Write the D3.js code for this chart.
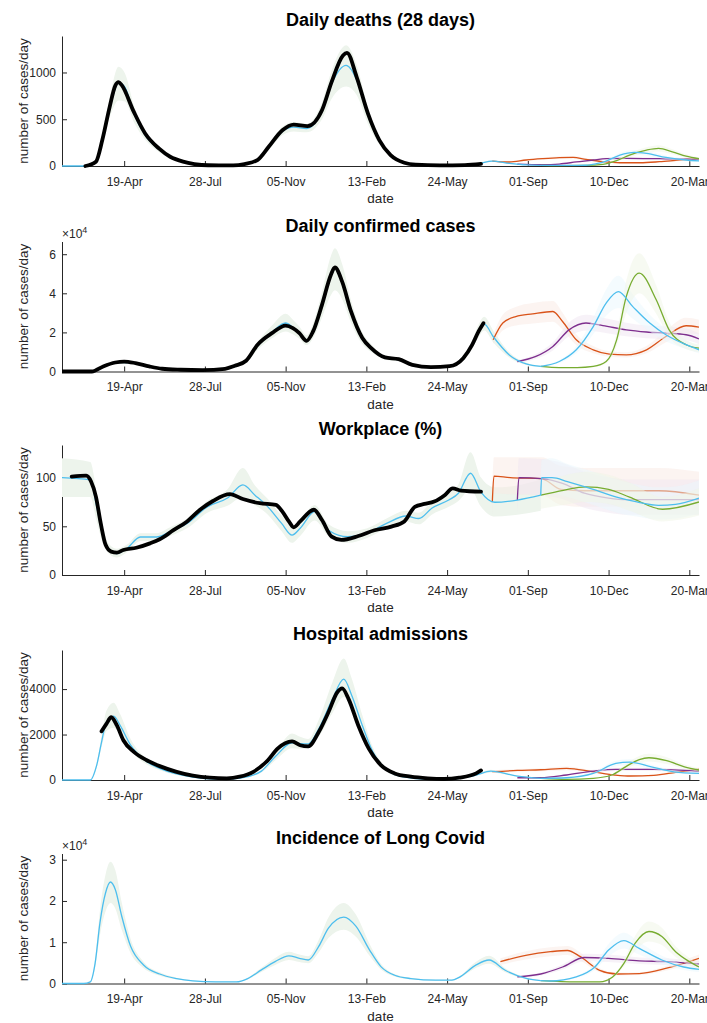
<!DOCTYPE html>
<html>
<head>
<meta charset="utf-8">
<script src="https://cdn.jsdelivr.net/npm/d3@7"></script>
<style>
body{margin:0;background:#fff}
svg{display:block;font-family:"Liberation Sans",Arial,Helvetica,sans-serif}
</style>
</head>
<body>
<div id="chart"></div>
<script>
// x axis tick dates (every 100 days)
const xTicks = ["2020-04-19","2020-07-28","2020-11-05","2021-02-13","2021-05-24","2021-09-01","2021-12-10","2022-03-20"];

// ---------- Daily deaths (28 days) ----------
const deathsTicks = [0, 500, 1000];
// observed: [date, value]
const deathsObs = [["2020-03-02",0],["2020-03-15",46],["2020-03-23",280],["2020-04-01",630],["2020-04-08",860],["2020-04-12",897],["2020-04-16",865],["2020-05-01",578],["2020-05-15",348],["2020-06-01",188],["2020-06-15",99],["2020-07-01",46],["2020-07-15",21],["2020-08-01",8],["2020-09-01",7],["2020-09-15",21],["2020-10-01",64],["2020-10-15",206],["2020-11-01",383],["2020-11-15",443],["2020-12-02",426],["2020-12-20",596],["2021-01-01",900],["2021-01-15",1181],["2021-01-20",1210],["2021-02-01",951],["2021-02-15",560],["2021-03-01",277],["2021-03-15",117],["2021-04-01",35],["2021-04-15",14],["2021-05-15",7],["2021-06-15",10],["2021-07-05",22]];
// model fit: [date, mean, low, high]
const deathsFit = [["2020-02-02",0,0,0],["2020-03-01",0,0,0],["2020-03-15",45,35,55],["2020-04-01",620,520,730],["2020-04-12",890,700,1060],["2020-04-20",840,690,990],["2020-05-01",560,470,650],["2020-05-15",330,280,380],["2020-06-01",180,150,210],["2020-07-01",45,38,52],["2020-08-01",8,6,10],["2020-09-01",7,5,9],["2020-10-01",60,50,72],["2020-10-15",200,175,230],["2020-11-01",370,330,420],["2020-11-15",415,370,470],["2020-12-01",400,360,450],["2020-12-20",590,500,680],["2021-01-01",880,720,1020],["2021-01-19",1075,850,1290],["2021-02-01",920,760,1080],["2021-02-15",540,450,620],["2021-03-01",270,230,310],["2021-03-15",115,95,135],["2021-04-01",35,28,42],["2021-05-01",7,5,9],["2021-06-15",10,8,12],["2021-07-03",28,22,34],["2021-07-19",53,45,62],["2021-08-09",28,23,33],["2021-08-30",11,9,13],["2021-09-17",7,6,9]];
const deathsOrange = [["2021-07-19",53,45,62],["2021-08-09",43,36,50],["2021-08-30",64,54,74],["2021-09-19",78,66,90],["2021-10-10",89,75,103],["2021-10-27",92,78,106],["2021-11-12",71,60,82],["2021-12-03",46,39,53],["2021-12-24",35,30,40],["2022-01-18",35,30,40],["2022-02-11",46,39,53],["2022-03-08",64,54,74],["2022-04-01",78,66,90]];
const deathsPurple = [["2021-08-19",21,18,25],["2021-09-19",14,12,17],["2021-10-10",21,18,25],["2021-10-31",43,37,50],["2021-11-21",64,54,74],["2021-12-07",78,66,90],["2022-01-01",82,70,95],["2022-02-11",78,66,90],["2022-04-01",71,60,82]];
const deathsCyan = [["2021-09-17",7,6,9],["2021-10-15",7,5,9],["2021-11-12",8,6,10],["2021-11-25",25,20,30],["2021-12-07",53,42,65],["2021-12-24",117,95,140],["2022-01-11",146,120,172],["2022-01-26",135,110,160],["2022-02-19",92,75,110],["2022-03-16",64,52,76],["2022-04-01",55,45,65]];
const deathsGreen = [["2021-09-17",7,6,9],["2021-10-10",5,4,6],["2021-11-12",7,6,9],["2021-12-03",18,15,21],["2021-12-20",57,47,67],["2022-01-05",117,97,138],["2022-01-26",170,140,200],["2022-02-10",188,155,222],["2022-02-27",152,125,180],["2022-03-16",106,88,125],["2022-04-01",78,65,92]];

// ---------- Daily confirmed cases ----------
const casesTicks = [0, 20000, 40000, 60000];
const casesObs = [["2020-02-02",0],["2020-03-10",0],["2020-03-24",2600],["2020-04-08",4600],["2020-04-19",5100],["2020-05-03",4300],["2020-05-20",2600],["2020-06-05",1400],["2020-06-28",900],["2020-07-25",700],["2020-08-22",1400],["2020-09-03",2900],["2020-09-17",5500],["2020-10-01",13600],["2020-10-19",19600],["2020-11-05",23500],["2020-11-14",22200],["2020-11-22",19600],["2020-12-01",15700],["2020-12-09",20500],["2020-12-20",34100],["2020-12-31",49400],["2021-01-05",53200],["2021-01-14",46000],["2021-01-25",30700],["2021-02-08",17100],["2021-02-19",11900],["2021-03-08",7200],["2021-03-25",6300],["2021-04-11",3400],["2021-05-04",2200],["2021-05-27",2700],["2021-06-13",6800],["2021-06-24",13600],["2021-07-02",20500],["2021-07-08",24700]];
const casesFit = [["2020-02-02",0,0,0],["2020-03-10",0,0,0],["2020-03-24",2500,2100,2900],["2020-04-12",4700,4000,5400],["2020-05-03",4200,3600,4800],["2020-06-05",1400,1200,1600],["2020-07-25",700,600,800],["2020-08-22",1400,1200,1600],["2020-09-17",5500,4700,6300],["2020-10-01",13000,11000,15000],["2020-10-19",20000,17000,23500],["2020-11-05",24800,20500,29500],["2020-11-14",22500,19000,26500],["2020-11-22",19600,16800,23000],["2020-12-01",15800,13500,18500],["2020-12-09",20500,17000,24500],["2020-12-20",34000,27500,40500],["2020-12-31",49000,39000,59000],["2021-01-05",53000,41500,63000],["2021-01-14",46000,37000,55000],["2021-01-25",30700,25000,36500],["2021-02-08",17000,14000,20000],["2021-02-19",11900,10000,14000],["2021-03-08",7200,6200,8200],["2021-03-25",6000,5200,6800],["2021-04-11",3400,2900,3900],["2021-05-04",2200,1900,2500],["2021-05-27",2700,2300,3100],["2021-06-13",6800,5800,7800],["2021-06-24",13600,11500,15700],["2021-07-02",20500,17500,24000],["2021-07-09",24200,21000,28000],["2021-07-20",17900,15000,21000],["2021-08-09",8500,7200,9800],["2021-08-30",3900,3300,4500],["2021-09-17",2600,2200,3000]];
const casesOrange = [["2021-07-20",16200,14000,18500],["2021-08-01",24800,21000,29000],["2021-08-17",28100,23500,33000],["2021-09-07",29500,24500,35000],["2021-10-02",30700,25500,36000],["2021-10-14",25600,21500,30000],["2021-10-31",16200,13500,19000],["2021-11-21",11100,9300,13000],["2021-12-11",8900,7500,10300],["2022-01-01",8500,7200,9800],["2022-01-26",11100,9300,13000],["2022-02-19",17900,15000,21000],["2022-03-16",23400,19500,27500],["2022-04-01",22700,19000,26500]];
const casesPurple = [["2021-08-19",5100,4300,5900],["2021-09-11",7700,6500,9000],["2021-10-02",12800,10800,15000],["2021-10-22",21300,18000,25000],["2021-11-12",24800,21000,29000],["2021-12-03",23500,20000,27500],["2022-01-01",21300,18000,25000],["2022-01-26",20200,17000,23500],["2022-02-19",19600,16500,23000],["2022-03-16",18800,16000,22000],["2022-04-01",16700,14000,19500]];
const casesCyan = [["2021-09-17",2600,2200,3000],["2021-10-10",5100,4300,5900],["2021-10-31",11100,9300,12900],["2021-11-21",23000,19000,27500],["2021-12-07",35000,28500,42000],["2021-12-22",40900,32500,49000],["2022-01-09",33200,27000,39500],["2022-01-30",24800,20500,29000],["2022-02-19",18800,15500,22000],["2022-03-16",13700,11500,16000],["2022-04-01",11100,9300,12900]];
const casesGreen = [["2021-09-17",2600,2200,3000],["2021-10-10",2000,1700,2300],["2021-11-01",2000,1700,2300],["2021-11-21",2600,2200,3000],["2021-12-07",5100,4200,6000],["2021-12-20",16200,13000,19500],["2022-01-01",38400,30000,46500],["2022-01-17",50300,40000,60500],["2022-02-07",36700,29500,44000],["2022-02-23",21300,17500,25500],["2022-03-16",13700,11500,16000],["2022-04-01",12000,10000,14000]];

// ---------- Workplace (%) ----------
const workTicks = [0, 50, 100];
const workObs = [["2020-02-14",101],["2020-03-03",102],["2020-03-09",96],["2020-03-15",80.5],["2020-03-21",53],["2020-03-27",31],["2020-04-03",24],["2020-04-10",23],["2020-04-18",25.7],["2020-05-04",28],["2020-05-21",32.5],["2020-06-02",36.7],["2020-06-19",46],["2020-07-06",55],["2020-07-22",67],["2020-08-07",76],["2020-08-28",83],["2020-09-13",78],["2020-10-04",73.7],["2020-10-24",72],["2020-11-01",65],["2020-11-09",55],["2020-11-15",49],["2020-11-23",55],["2020-12-10",67],["2020-12-20",56.5],["2021-01-01",39.4],["2021-01-13",36],["2021-02-03",40],["2021-02-23",46],["2021-03-16",49.7],["2021-04-01",55],["2021-04-14",70],["2021-04-26",73],["2021-05-08",75.4],["2021-05-21",82],["2021-05-31",89],["2021-06-10",86.7],["2021-07-05",85.6]];
const workFit = [["2020-02-02",100,80,120],["2020-03-08",97.6,80,116],["2020-03-16",70,55,85],["2020-03-24",39.4,32,47],["2020-04-01",25.7,21,31],["2020-04-10",22,18,27],["2020-04-22",27,23,31],["2020-05-09",39,35,43],["2020-05-29",39,35,43],["2020-06-15",44.5,40,49],["2020-07-06",53,48,58],["2020-07-31",70,64,76],["2020-08-25",79,71,88],["2020-09-13",92.5,80,110],["2020-09-28",82,72,92],["2020-10-14",70,62,78],["2020-10-31",53,45,61],["2020-11-13",41,33,50],["2020-11-23",48,40,56],["2020-12-11",65,56,72],["2020-12-28",46,40,52],["2021-01-21",39.4,33,45],["2021-02-14",43,38,48],["2021-03-10",53,48,58],["2021-04-03",60.6,55,66],["2021-04-19",58,52,64],["2021-05-05",68.5,62,75],["2021-05-26",77,70,84],["2021-06-07",84,76,93],["2021-06-22",104.5,88,126],["2021-07-05",85,70,100],["2021-07-22",74.7,60,90],["2021-08-19",77,62,92],["2021-09-17",82,66,98]];
const workOrange = [["2021-07-19",75,62,90],["2021-07-21",101.5,84,121],["2021-08-10",100,83,121],["2021-09-18",99,82,121],["2021-10-12",88,72,112],["2021-11-10",86.5,70,110],["2022-02-10",86.5,70,110],["2022-04-01",82,66,106]];
const workPurple = [["2021-08-19",77,64,92],["2021-08-21",100,83,120],["2021-09-18",99,82,119],["2021-10-14",94,78,115],["2021-11-10",84,69,106],["2021-12-10",79,64,100],["2022-01-01",77.4,62,98],["2022-04-01",77.4,62,98]];
const workCyan = [["2021-09-17",82,66,98],["2021-09-18",100,84,118],["2021-10-01",100,84,120],["2021-10-20",96,80,114],["2021-11-21",88,72,106],["2021-12-20",80,64,98],["2022-01-14",75,60,93],["2022-02-10",71.5,57,90],["2022-03-03",72.5,58,91],["2022-04-01",79,63,97]];
const workGreen = [["2021-09-17",82,68,96],["2021-10-15",87,72,102],["2021-11-12",90.5,75,106],["2021-12-10",88,73,103],["2022-01-05",80,66,95],["2022-02-15",67.5,55,80],["2022-04-01",75,61,89]];

// ---------- Hospital admissions ----------
const hospTicks = [0, 2000, 4000];
const hospObs = [["2020-03-22",2140],["2020-03-28",2470],["2020-04-03",2760],["2020-04-10",2400],["2020-04-18",1750],["2020-05-01",1240],["2020-05-17",870],["2020-06-02",610],["2020-06-23",360],["2020-07-13",190],["2020-08-03",100],["2020-08-24",75],["2020-09-09",145],["2020-09-26",360],["2020-10-14",870],["2020-10-26",1380],["2020-11-13",1700],["2020-11-23",1530],["2020-12-03",1480],["2020-12-16",2110],["2020-12-28",2980],["2021-01-08",3860],["2021-01-14",4030],["2021-01-22",3560],["2021-02-03",2400],["2021-02-16",1380],["2021-03-03",655],["2021-03-20",290],["2021-04-09",145],["2021-04-30",73],["2021-05-20",45],["2021-06-08",100],["2021-06-29",290],["2021-07-05",420]];
const hospFit = [["2020-02-02",0,0,0],["2020-03-08",0,0,0],["2020-03-16",655,550,760],["2020-03-22",1670,1450,1950],["2020-03-28",2550,2150,3050],["2020-04-06",2810,2300,3400],["2020-04-14",2400,2000,2900],["2020-04-27",1530,1300,1800],["2020-05-17",800,680,920],["2020-06-02",510,430,590],["2020-07-13",130,110,150],["2020-08-10",44,37,51],["2020-09-01",50,42,58],["2020-09-19",145,120,170],["2020-10-06",390,330,450],["2020-10-23",1020,860,1180],["2020-11-13",1640,1400,2050],["2020-11-23",1600,1380,1900],["2020-12-03",1590,1400,1800],["2020-12-16",2250,1900,2650],["2021-01-02",3560,2950,4300],["2021-01-16",4440,3650,5350],["2021-01-26",3710,3050,4450],["2021-02-08",2400,2000,2850],["2021-02-21",1240,1050,1450],["2021-03-08",510,430,590],["2021-03-29",145,120,170],["2021-05-01",30,25,35],["2021-05-25",30,25,35],["2021-06-08",73,62,85],["2021-06-29",220,185,255],["2021-07-17",390,330,450],["2021-08-19",175,150,200],["2021-09-17",73,62,85]];
const hospOrange = [["2021-07-19",365,310,420],["2021-08-19",420,355,485],["2021-09-17",450,380,520],["2021-10-19",510,430,590],["2021-11-20",365,310,420],["2021-12-18",220,185,255],["2022-01-06",175,150,200],["2022-02-04",205,175,235],["2022-03-03",335,285,385],["2022-04-01",480,405,555]];
const hospPurple = [["2021-08-19",100,85,115],["2021-09-17",100,85,115],["2021-10-19",220,185,255],["2021-11-21",390,330,450],["2021-12-19",465,395,535],["2022-02-04",465,395,535],["2022-04-01",390,330,450]];
const hospCyan = [["2021-09-17",73,62,85],["2021-10-19",100,85,115],["2021-11-21",290,245,335],["2021-12-19",730,610,850],["2022-01-05",790,660,920],["2022-02-01",580,490,670],["2022-03-01",360,305,415],["2022-04-01",290,245,335]];
const hospGreen = [["2021-09-17",73,62,85],["2021-10-19",30,25,35],["2021-11-21",73,62,85],["2021-12-14",220,185,255],["2021-12-31",580,480,680],["2022-01-17",900,750,1060],["2022-01-29",980,810,1150],["2022-02-20",850,700,1000],["2022-03-14",580,480,680],["2022-04-01",440,365,515]];

// ---------- Incidence of Long Covid ----------
const lcTicks = [0, 10000, 20000, 30000];
const lcFit = [["2020-02-02",0,0,0],["2020-02-29",0,0,0],["2020-03-08",400,320,480],["2020-03-14",4900,3900,5900],["2020-03-20",14700,11700,17700],["2020-03-27",22000,17500,26500],["2020-04-02",24600,19500,29500],["2020-04-08",22800,18200,27500],["2020-04-16",16300,13000,19600],["2020-04-27",9000,7300,10800],["2020-05-13",4500,3700,5300],["2020-06-02",2300,1900,2700],["2020-06-23",1200,1000,1400],["2020-07-13",650,540,760],["2020-08-10",400,330,470],["2020-09-05",400,330,470],["2020-09-19",1200,1000,1400],["2020-10-06",3300,2800,3800],["2020-10-23",5300,4500,6200],["2020-11-09",6700,5700,7700],["2020-11-22",6100,5200,7000],["2020-12-03",5700,4900,6600],["2020-12-16",9000,7500,10600],["2020-12-28",13400,11000,16000],["2021-01-16",16100,13000,19500],["2021-01-31",13900,11300,16700],["2021-02-17",8100,6700,9600],["2021-03-03",4100,3400,4800],["2021-03-20",2000,1700,2300],["2021-04-09",1200,1000,1400],["2021-05-10",800,670,930],["2021-05-30",800,670,930],["2021-06-08",1500,1250,1750],["2021-06-29",4500,3800,5300],["2021-07-15",5700,4800,6700],["2021-08-04",3200,2700,3700],["2021-08-31",1200,1000,1400],["2021-09-17",700,600,800]];
const lcOrange = [["2021-07-29",5300,4500,6100],["2021-08-31",6900,5900,7900],["2021-09-29",7700,6600,8800],["2021-10-20",8000,6900,9100],["2021-11-05",6500,5500,7500],["2021-11-29",3200,2700,3700],["2021-12-21",2300,1950,2650],["2022-01-17",2400,2050,2750],["2022-02-20",3700,3150,4250],["2022-04-01",6100,5200,7000]];
const lcPurple = [["2021-08-19",1600,1350,1850],["2021-09-17",2300,1950,2650],["2021-10-14",4000,3400,4600],["2021-11-10",6300,5400,7200],["2021-12-10",6100,5200,7000],["2022-01-17",5500,4700,6300],["2022-02-20",5300,4500,6100],["2022-04-01",4700,4000,5400]];
const lcCyan = [["2021-09-17",700,600,800],["2021-09-29",600,510,690],["2021-10-31",1600,1350,1850],["2021-11-23",4000,3300,4700],["2021-12-10",8100,6600,9600],["2021-12-29",10400,8500,12300],["2022-01-17",8500,7000,10000],["2022-02-14",5700,4700,6700],["2022-03-13",4000,3300,4700],["2022-04-01",3400,2800,4000]];
const lcGreen = [["2021-09-17",700,600,800],["2021-10-31",400,340,460],["2021-11-29",400,340,460],["2021-12-15",1600,1350,1850],["2021-12-29",4900,4100,5700],["2022-01-12",9800,8000,11600],["2022-01-29",12600,10200,15000],["2022-02-14",11400,9300,13500],["2022-03-03",7700,6400,9000],["2022-03-20",5300,4400,6200],["2022-04-01",4000,3400,4600]];

// ---------- layout ----------
const width = 707, height = 1023;
const left = 62, right = 699, plotH = 130;
const axisColor = "#262626";
const col = {orange:"#D95319", purple:"#7E2F8E", cyan:"#4DBEEE", green:"#77AC30"};

const parse = d3.utcParse("%Y-%m-%d");
const x = d3.scaleUtc()
  .domain([parse("2020-02-02"), parse("2022-04-01")])
  .range([left, right]);

const panels = [
  {title:"Daily deaths (28 days)", bottom:166, ymax:1390, ticks:deathsTicks, exp:false,
   obs:deathsObs, fit:deathsFit, orange:deathsOrange, purple:deathsPurple, cyan:deathsCyan, green:deathsGreen},
  {title:"Daily confirmed cases", bottom:371.5, ymax:66500, ticks:casesTicks, exp:true,
   obs:casesObs, fit:casesFit, orange:casesOrange, purple:casesPurple, cyan:casesCyan, green:casesGreen},
  {title:"Workplace (%)", bottom:575, ymax:133.5, ticks:workTicks, exp:false,
   obs:workObs, fit:workFit, orange:workOrange, purple:workPurple, cyan:workCyan, green:workGreen},
  {title:"Hospital admissions", bottom:780, ymax:5720, ticks:hospTicks, exp:false,
   obs:hospObs, fit:hospFit, orange:hospOrange, purple:hospPurple, cyan:hospCyan, green:hospGreen},
  {title:"Incidence of Long Covid", bottom:983.5, ymax:31500, ticks:lcTicks, exp:true,
   obs:null, fit:lcFit, orange:lcOrange, purple:lcPurple, cyan:lcCyan, green:lcGreen}
];

const svg = d3.select("#chart").append("svg")
  .attr("width", width)
  .attr("height", height);

svg.append("defs").append("clipPath").attr("id","plotclip")
  .append("rect").attr("x", left).attr("y", 0).attr("width", right - left).attr("height", height);

// pale fill for a scenario band
function tint(c){ return d3.interpolateRgb(c, "#fff")(0.88); }

panels.forEach(p => {
  const top = p.bottom - plotH;
  const y = d3.scaleLinear().domain([0, p.ymax]).range([p.bottom, top]);
  const g = svg.append("g");

  const line = d3.line()
    .x(d => x(parse(d[0])))
    .y(d => y(d[1]))
    .curve(d3.curveMonotoneX);
  const band = d3.area()
    .x(d => x(parse(d[0])))
    .y0(d => y(d[2]))
    .y1(d => y(d[3]))
    .curve(d3.curveMonotoneX);

  // axes (under the data, like matlab)
  const fmt = p.exp ? (v => v / 1e4) : (v => v);
  const xa = g.append("g")
    .attr("transform", `translate(0,${p.bottom})`)
    .call(d3.axisBottom(x)
      .tickValues(xTicks.map(parse))
      .tickFormat(d3.utcFormat("%d-%b"))
      .tickSizeInner(-5).tickSizeOuter(0).tickPadding(11));
  const ya = g.append("g")
    .attr("transform", `translate(${left},0)`)
    .call(d3.axisLeft(y)
      .tickValues(p.ticks)
      .tickFormat(fmt)
      .tickSizeInner(-5).tickSizeOuter(0).tickPadding(6));
  [xa, ya].forEach(a => {
    a.attr("font-size", 12).attr("font-family", null).attr("color", axisColor);
    a.select(".domain").attr("stroke-width", 1);
  });

  const plot = g.append("g").attr("clip-path", "url(#plotclip)");

  // fit uncertainty band
  plot.append("path").datum(p.fit)
    .attr("d", band).attr("fill", "#edf4ec");

  // early scenarios
  ["orange","purple"].forEach(k => {
    plot.append("path").datum(p[k]).attr("d", band)
      .attr("fill", tint(col[k])).attr("fill-opacity", 0.5);
  });
  ["orange","purple"].forEach(k => {
    plot.append("path").datum(p[k]).attr("d", line)
      .attr("fill", "none").attr("stroke", col[k]).attr("stroke-width", 1.3);
  });
  // later scenarios
  ["cyan","green"].forEach(k => {
    plot.append("path").datum(p[k]).attr("d", band)
      .attr("fill", tint(col[k])).attr("fill-opacity", 0.5);
  });
  ["green","cyan"].forEach(k => {
    plot.append("path").datum(p[k]).attr("d", line)
      .attr("fill", "none").attr("stroke", col[k]).attr("stroke-width", 1.3);
  });

  // model fit
  plot.append("path").datum(p.fit).attr("d", line)
    .attr("fill", "none").attr("stroke", col.cyan).attr("stroke-width", 1.3);

  // observed data
  if (p.obs) {
    plot.append("path").datum(p.obs).attr("d", line)
      .attr("fill", "none").attr("stroke", "#000")
      .attr("stroke-width", 3.8).attr("stroke-linecap", "round").attr("stroke-linejoin", "round");
  }

  // title
  g.append("text")
    .attr("x", (left + right) / 2).attr("y", p.bottom - 140)
    .attr("text-anchor", "middle")
    .attr("font-size", 18).attr("font-weight", "bold").attr("fill", "#000")
    .text(p.title);

  // axis labels
  g.append("text")
    .attr("x", (left + right) / 2).attr("y", p.bottom + 37)
    .attr("text-anchor", "middle").attr("font-size", 13.5).attr("fill", axisColor)
    .text("date");
  g.append("text")
    .attr("transform", `translate(28,${p.bottom - plotH / 2}) rotate(-90)`)
    .attr("text-anchor", "middle").attr("font-size", 13.5).attr("fill", axisColor)
    .text("number of cases/day");

  // exponent label
  if (p.exp) {
    const t = g.append("text")
      .attr("x", left).attr("y", top - 4)
      .attr("font-size", 12).attr("fill", axisColor);
    t.append("tspan").text("\u00d710");
    t.append("tspan").attr("dy", "-0.45em").attr("font-size", 9).text("4");
  }
});
</script>
</body>
</html>
